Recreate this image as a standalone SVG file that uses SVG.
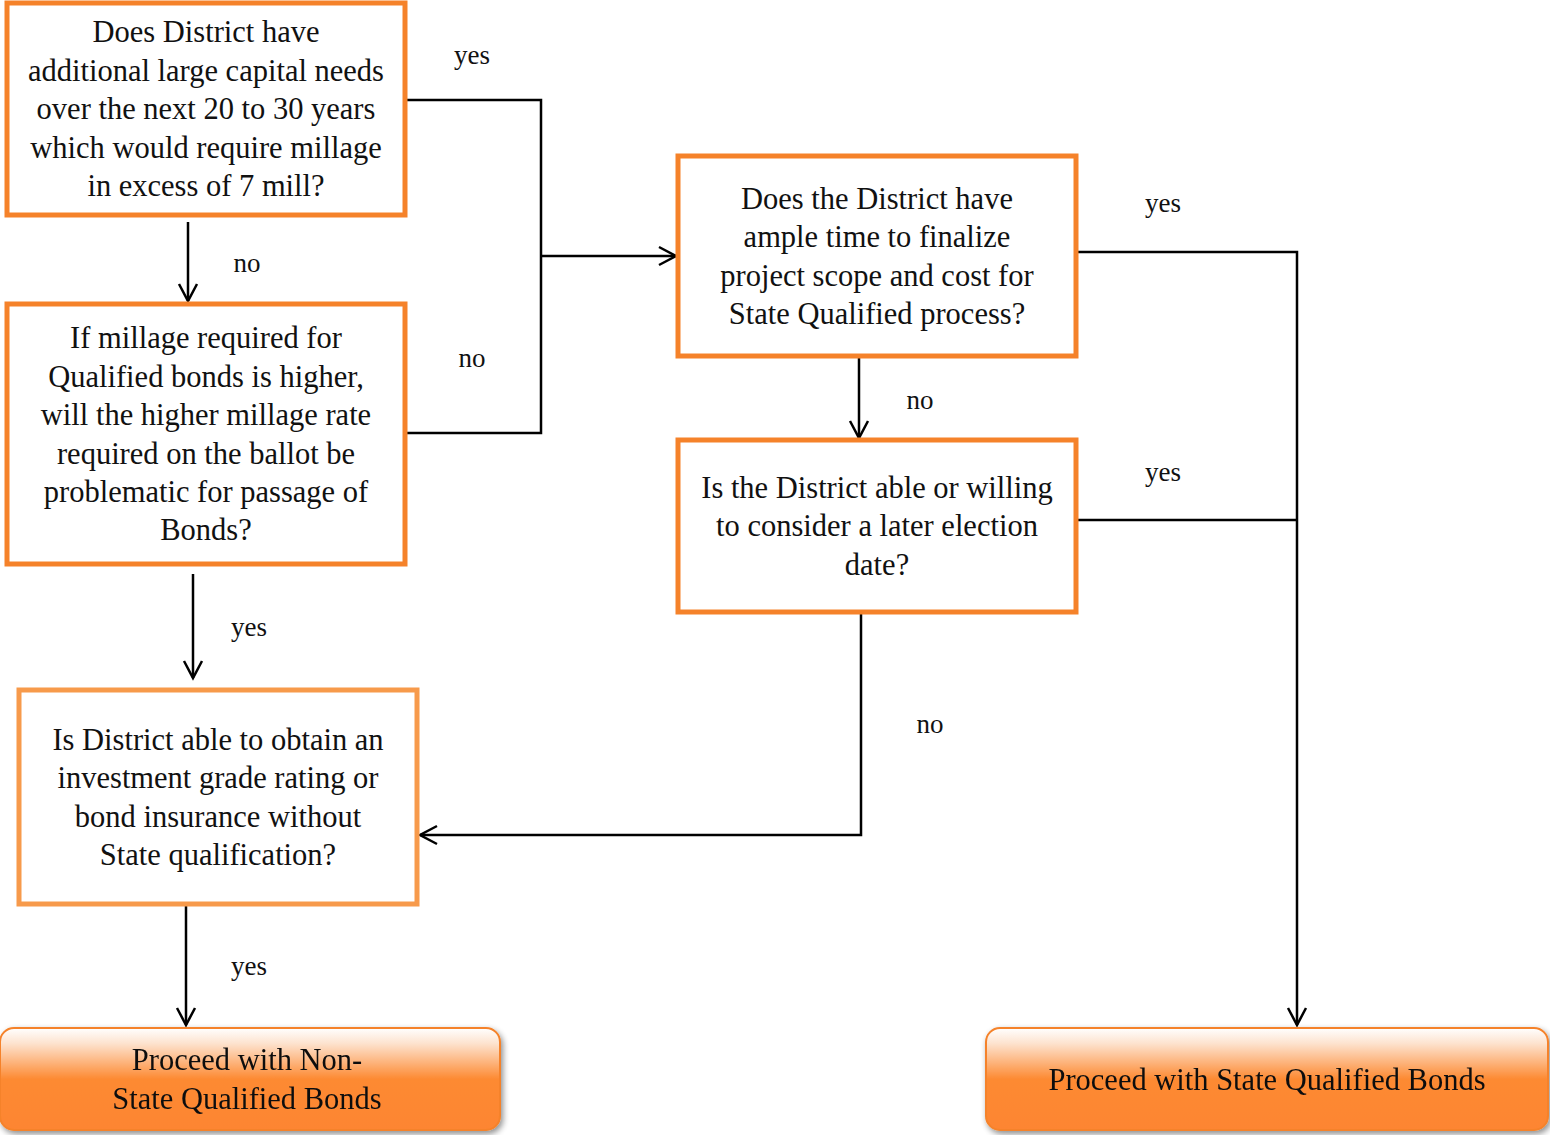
<svg xmlns="http://www.w3.org/2000/svg" width="1550" height="1135" viewBox="0 0 1550 1135">
<style>
.box{fill:#fff;stroke:#f5822a;stroke-width:5}
.box2{fill:#fff;stroke:#f79a4b;stroke-width:5}
.end{fill:url(#grad);stroke:#f5822a;stroke-width:2}
.t{font-family:"Liberation Serif","Times New Roman",serif;font-size:30.5px;fill:#111;text-anchor:middle}
.lbl{font-family:"Liberation Serif","Times New Roman",serif;font-size:27px;fill:#111;text-anchor:middle}
.c{fill:none;stroke:#000;stroke-width:2.5}
</style>
<defs>
<linearGradient id="grad" x1="0" y1="0" x2="0" y2="1">
<stop offset="0" stop-color="#ffffff"/>
<stop offset="0.15" stop-color="#fde3cf"/>
<stop offset="0.5" stop-color="#fd8a33"/>
<stop offset="1" stop-color="#fd8530"/>
</linearGradient>
<filter id="sh" x="-5%" y="-10%" width="112%" height="130%">
<feGaussianBlur in="SourceAlpha" stdDeviation="3"/>
<feOffset dx="2" dy="3"/>
<feComponentTransfer><feFuncA type="linear" slope="0.45"/></feComponentTransfer>
<feMerge><feMergeNode/><feMergeNode in="SourceGraphic"/></feMerge>
</filter>
<marker id="arr" markerWidth="22" markerHeight="24" refX="18" refY="12" orient="auto" markerUnits="userSpaceOnUse">
<path d="M1,3 L18,12 L1,21" fill="none" stroke="#000" stroke-width="2.5"/>
</marker>
</defs>

<g id="connectors">
<path class="c" d="M407,100 H541 V433 H405"/>
<path class="c" d="M541,256 H676" marker-end="url(#arr)"/>
<path class="c" d="M188,222 V301" marker-end="url(#arr)"/>
<path class="c" d="M193,574 V678" marker-end="url(#arr)"/>
<path class="c" d="M186,904 V1025" marker-end="url(#arr)"/>
<path class="c" d="M1078,252 H1297 V1025" marker-end="url(#arr)"/>
<path class="c" d="M1078,520 H1297"/>
<path class="c" d="M859,356 V438" marker-end="url(#arr)"/>
<path class="c" d="M861,612 V835 H420" marker-end="url(#arr)"/>
<text class="lbl" x="472" y="64">yes</text>
<text class="lbl" x="247" y="272">no</text>
<text class="lbl" x="472" y="367">no</text>
<text class="lbl" x="1163" y="212">yes</text>
<text class="lbl" x="920" y="409">no</text>
<text class="lbl" x="1163" y="481">yes</text>
<text class="lbl" x="249" y="636">yes</text>
<text class="lbl" x="930" y="733">no</text>
<text class="lbl" x="249" y="975">yes</text>
</g>

<g id="n1">
<rect class="box" x="7" y="3" width="398" height="212"/>
<text class="t"><tspan x="206" y="42">Does District have</tspan><tspan x="206" y="81">additional large capital needs</tspan><tspan x="206" y="119">over the next 20 to 30 years</tspan><tspan x="206" y="158">which would require millage</tspan><tspan x="206" y="196">in excess of  7 mill?</tspan></text>
</g>

<g id="n2">
<rect class="box" x="7" y="304" width="398" height="260"/>
<text class="t"><tspan x="206" y="348">If  millage required for</tspan><tspan x="206" y="387">Qualified bonds is higher,</tspan><tspan x="206" y="425">will the higher millage rate</tspan><tspan x="206" y="464">required on the ballot be</tspan><tspan x="206" y="502">problematic for passage of</tspan><tspan x="206" y="540">Bonds?</tspan></text>
</g>

<g id="n3">
<rect class="box" x="678" y="156" width="398" height="200"/>
<text class="t"><tspan x="877" y="209">Does the District have</tspan><tspan x="877" y="247">ample time to finalize</tspan><tspan x="877" y="286">project scope and cost for</tspan><tspan x="877" y="324">State Qualified process?</tspan></text>
</g>

<g id="n4">
<rect class="box" x="678" y="440" width="398" height="172"/>
<text class="t"><tspan x="877" y="498">Is the District able or willing</tspan><tspan x="877" y="536">to consider a later election</tspan><tspan x="877" y="575">date?</tspan></text>
</g>

<g id="n5">
<rect class="box2" x="19" y="690" width="398" height="214"/>
<text class="t"><tspan x="218" y="750">Is District able to obtain an</tspan><tspan x="218" y="788">investment grade rating or</tspan><tspan x="218" y="827">bond insurance without</tspan><tspan x="218" y="865">State qualification?</tspan></text>
</g>

<g id="n6" filter="url(#sh)">
<rect class="end" x="0" y="1028" width="500" height="102" rx="14"/>
<text class="t"><tspan x="247" y="1070">Proceed with Non-</tspan><tspan x="247" y="1109">State Qualified Bonds</tspan></text>
</g>

<g id="n7" filter="url(#sh)">
<rect class="end" x="986" y="1028" width="562" height="102" rx="14"/>
<text class="t"><tspan x="1267" y="1090">Proceed with State Qualified Bonds</tspan></text>
</g>
</svg>
